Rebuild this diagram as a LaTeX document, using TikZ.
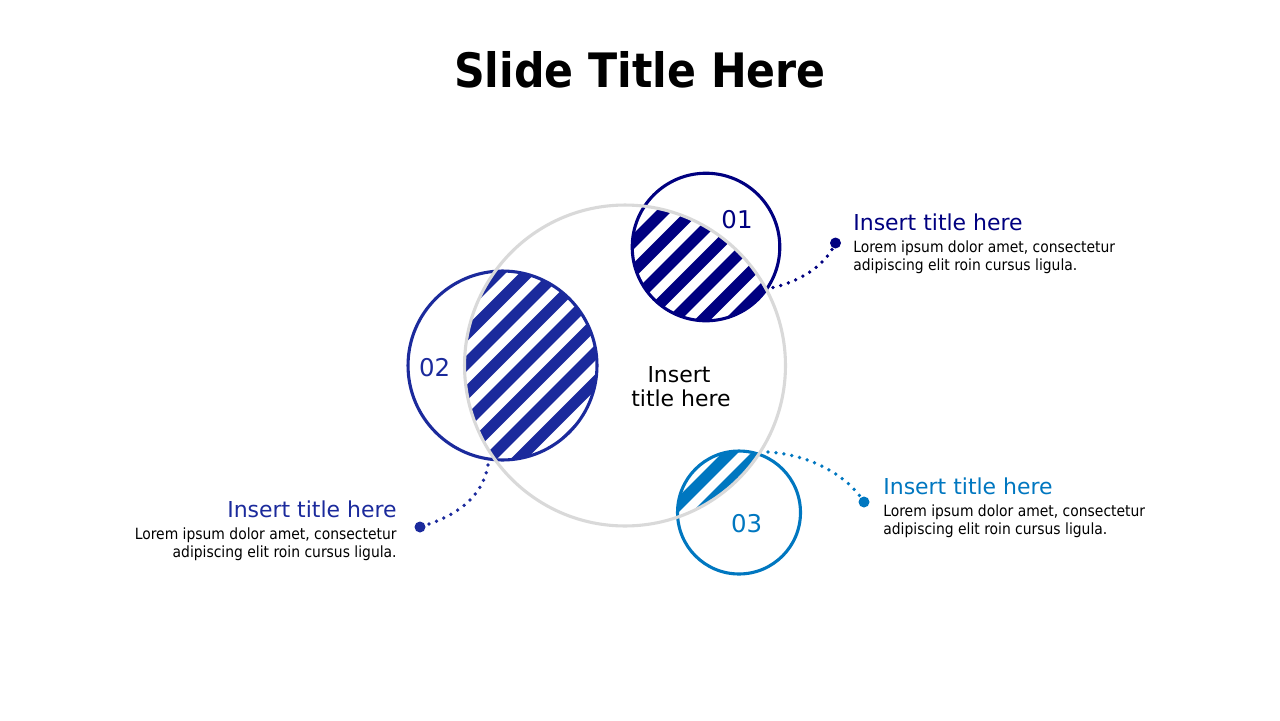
\documentclass[tikz,border=0pt]{standalone}
\usepackage{fontspec}
\setmainfont{DejaVu Sans}
\newfontfamily\condfont{DejaVu Sans Condensed}
\newfontfamily\condboldfont{DejaVu Sans Condensed Bold}
\definecolor{navyA}{HTML}{000080}
\definecolor{blueB}{HTML}{1B2A9C}
\definecolor{blueC}{HTML}{0077C0}
\definecolor{grayR}{HTML}{D9D9D9}
\begin{document}
\begin{tikzpicture}[x=0.02cm,y=-0.02cm,
  ring/.style={circle, draw, line width=0.062cm, inner sep=0pt, outer sep=0pt},
  stripe/.style={line width=0.22cm},
  dotline/.style={line width=0.075cm, line cap=round, dash pattern=on 0pt off 0.16cm},
  enddot/.style={circle, fill, inner sep=0pt, minimum size=0.22cm},
  head/.style={font=\fontsize{12.5pt}{15pt}\selectfont, inner sep=0pt},
  body/.style={font=\condfont\fontsize{8.8pt}{10.5pt}\selectfont, inner sep=0pt, text=black},
  num/.style={font=\fontsize{13.9pt}{16pt}\selectfont, inner sep=0pt, anchor=base},
  ctext/.style={font=\fontsize{12.5pt}{15pt}\selectfont, inner sep=0pt, anchor=base, text=black}]

\fill[white] (0,0) rectangle (1280,720);
\useasboundingbox (0,0) rectangle (1280,720);

\node[font=\condboldfont\fontsize{27pt}{30pt}\selectfont, anchor=base, inner sep=0pt] (title) at (640,87) {Slide Title Here};

% hatching of the overlaps
\begin{scope}
  \clip (706,247) circle (73.8);
  \clip (625,365.5) circle (160.5);
  \foreach \c in {845.5,875,...,1090} \draw[stripe, navyA] (\c,0) -- ++(-700,700);
\end{scope}
\begin{scope}
  \clip (502.5,365.5) circle (94.5);
  \clip (625,365.5) circle (160.5);
  \foreach \c in {712,741.5,...,1030} \draw[stripe, blueB] (\c,0) -- ++(-700,700);
\end{scope}
\begin{scope}
  \clip (739,512.5) circle (61.5);
  \clip (625,365.5) circle (160.5);
  \foreach \c in {1154,1183,1212,1241} \draw[stripe, blueC] (\c,0) -- ++(-700,700);
\end{scope}

% circles
\node[ring, draw=navyA, minimum size=2.952cm] (c1) at (706,247) {};
\node[ring, draw=blueB, minimum size=3.78cm] (c2) at (502.5,365.5) {};
\node[ring, draw=blueC, minimum size=2.46cm] (c3) at (739,512.5) {};
\node[ring, draw=grayR, minimum size=6.42cm] (big) at (625,365.5) {};

% connectors
\coordinate (s1) at (773,287.5);
\coordinate (s2) at (488,465);
\coordinate (s3) at (768,452);
\node[enddot, navyA] (d1) at (835.5,243) {};
\node[enddot, blueB] (d2) at (420,527) {};
\node[enddot, blueC] (d3) at (864,502) {};
\draw[dotline, navyA] (s1) .. controls (797,282) and (824,268) .. (d1.center);
\draw[dotline, blueB] (s2) .. controls (483,495) and (460,515) .. (d2.center);
\draw[dotline, blueC] (s3) .. controls (805,454) and (845,472) .. (d3.center);

% numbers
\node[num, text=navyA] (n1) at (737,228) {01};
\node[num, text=blueB] (n2) at (434.7,376) {02};
\node[num, text=blueC] (n3) at (746.7,532) {03};

% center text
\node[ctext] (ct1) at (679,382) {Insert};
\node[ctext] (ct2) at (681,406) {title here};

% text blocks
\node[head, text=navyA, anchor=base west] (h1) at (853,230) {Insert title here};
\node[body, anchor=base west] (b1a) at (853,252) {Lorem ipsum dolor amet, consectetur};
\node[body, anchor=base west] (b1b) at (853,270.5) {adipiscing elit roin cursus ligula.};

\node[head, text=blueB, anchor=base east] (h2) at (397,517) {Insert title here};
\node[body, anchor=base east] (b2a) at (397,539) {Lorem ipsum dolor amet, consectetur};
\node[body, anchor=base east] (b2b) at (397,557) {adipiscing elit roin cursus ligula.};

\node[head, text=blueC, anchor=base west] (h3) at (883,494) {Insert title here};
\node[body, anchor=base west] (b3a) at (883,516) {Lorem ipsum dolor amet, consectetur};
\node[body, anchor=base west] (b3b) at (883,534) {adipiscing elit roin cursus ligula.};
\end{tikzpicture}
\end{document}
